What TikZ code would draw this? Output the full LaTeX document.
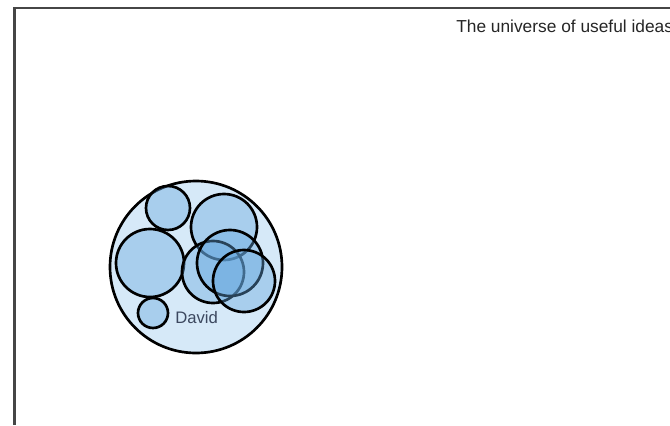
\documentclass[tikz,border=0pt]{standalone}
\usepackage{fontspec}
\setmainfont{Liberation Sans}
\begin{document}
\begin{tikzpicture}[x=0.75pt,y=-0.75pt,
  idea/.style={circle, draw=black, line width=2pt, inner sep=0pt, fill=ideablue, fill opacity=0.4, text opacity=1},
  lbl/.style={font=\fontsize{13pt}{15pt}\selectfont, inner sep=0pt}]
\definecolor{ideablue}{RGB}{100,166,222}
\definecolor{outerblue}{RGB}{214,233,248}
\definecolor{framegray}{RGB}{70,70,70}
\useasboundingbox (0,0) rectangle (670,425);
\clip (0,0) rectangle (670,425);
\fill[white] (0,0) rectangle (670,425);
\draw[framegray, line width=1.6pt] (14.5,425) -- (14.5,8) -- (672,8);
\node[lbl, anchor=base west, text=black!85] (title) at (456,32) {The universe of useful ideas};
\node[circle, draw=black, line width=2pt, fill=outerblue, inner sep=0pt, minimum size=172*0.75pt] (outer) at (196,267) {};
\node[idea, minimum size=44*0.75pt] (a) at (168,208) {};
\node[idea, minimum size=68*0.75pt] (b) at (150,263) {};
\node[idea, minimum size=66*0.75pt] (c) at (224,227) {};
\node[idea, minimum size=62*0.75pt] (d) at (213,272) {};
\node[idea, minimum size=66*0.75pt] (e) at (230,263) {};
\node[idea, minimum size=62*0.75pt] (f) at (244,281) {};
\node[idea, minimum size=30*0.75pt] (g) at (153,313) {};
\node[lbl, font=\fontsize{12.5pt}{14pt}\selectfont, anchor=west, text={rgb,255:red,60;green,72;blue,95}] (david) at (175,318) {David};
\end{tikzpicture}
\end{document}
